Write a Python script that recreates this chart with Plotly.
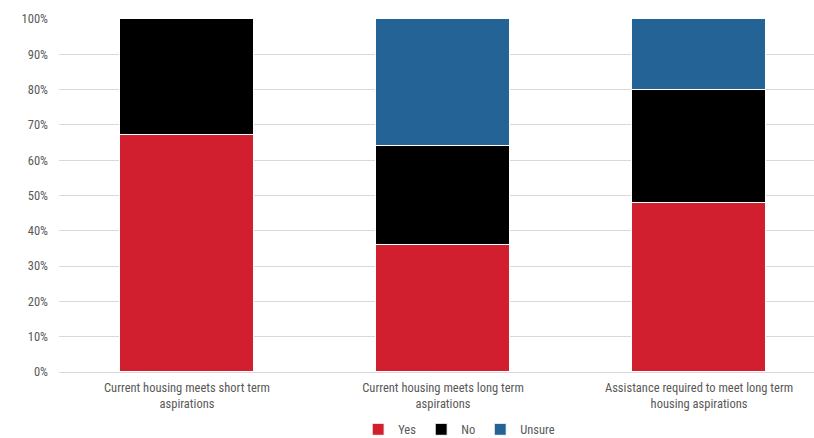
import plotly.graph_objects as go

categories = [
    "Current housing meets short term<br>aspirations",
    "Current housing meets long term<br>aspirations",
    "Assistance required to meet long term<br>housing aspirations",
]
yes_vals = [0.67, 0.36, 0.48]
no_vals = [0.33, 0.28, 0.32]
unsure_vals = [0.00, 0.36, 0.20]

series = [
    ("Yes", yes_vals, "#D11F2F"),
    ("No", no_vals, "#000000"),
    ("Unsure", unsure_vals, "#236396"),
]

fig = go.Figure()
for name, vals, color in series:
    fig.add_trace(go.Bar(
        x=list(range(len(categories))), y=vals, name=name,
        marker=dict(color=color, line=dict(color="white", width=1)),
        width=0.523,
    ))

font_family = "Roboto Condensed, Arial Narrow, sans-serif"
fig.update_layout(
    barmode="stack",
    width=814, height=438,
    margin=dict(l=59, r=0, t=19, b=66),
    plot_bgcolor="white", paper_bgcolor="white",
    font=dict(family=font_family, size=12, color="#595959"),
    showlegend=True,
    legend=dict(orientation="h", x=0.53, xanchor="center",
                yref="container", y=0.019, yanchor="middle",
                font=dict(size=12.5, color="#595959"),
                itemwidth=30, traceorder="normal"),
    bargap=0,
)
fig.update_xaxes(
    tickmode="array", tickvals=list(range(len(categories))), ticktext=categories,
    range=[-0.5, 2.449], showgrid=False, zeroline=False, automargin=False,
    showline=True, linecolor="#D9D9D9", linewidth=1,
    tickfont=dict(size=12.5, color="#595959"), ticks="", ticklabelstandoff=4,
)
fig.update_yaxes(
    range=[0, 1], dtick=0.1, tickformat=".0%", automargin=False,
    showgrid=True, gridcolor="#D9D9D9", gridwidth=1, zeroline=False,
    tickfont=dict(size=12.5, color="#595959"), ticks="", ticklen=0,
    ticklabelstandoff=10,
)

fig.write_html("out.html")
